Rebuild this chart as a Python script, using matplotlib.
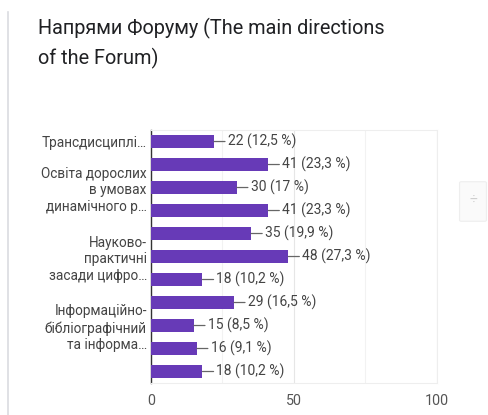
import matplotlib.pyplot as plt
from matplotlib.patches import FancyBboxPatch
from matplotlib.lines import Line2D

plt.rcParams['font.family'] = ['Roboto', 'DejaVu Sans']

# data
counts = [22, 41, 30, 41, 35, 48, 18, 29, 15, 16, 18]
percents = ["12,5", "23,3", "17", "23,3", "19,9", "27,3", "10,2", "16,5", "8,5", "9,1", "10,2"]
labels = ["Трансдисциплі…", "", "Освіта дорослих\nв умовах\nдинамічного р…", "", "",
          "Науково-\nпрактичні\nзасади цифро…", "", "", "Інформаційно-\nбібліографічний\nта інформа…", "", ""]
xticks = [0, 50, 100]
title_lines = ["Напрями Форуму (The main directions", "of the Forum)"]

bar_color = "#673ab7"
text_color = "#444444"

fig = plt.figure(figsize=(4.88, 4.15), dpi=100)
ax = fig.add_axes([0.3094, 0.0771, 0.586, 0.6096])

ypos = list(range(len(counts)))
ax.barh(ypos, counts, height=0.58, color=bar_color, zorder=3)

for y, c, p in zip(ypos, counts, percents):
    ax.annotate(f"{c} ({p} %)", xy=(c, y), xytext=(10, 0), textcoords="offset points",
                ha="left", va="center", fontsize=10, color=text_color,
                arrowprops=dict(arrowstyle="-", color="#666666", lw=0.9,
                                shrinkA=0, shrinkB=0), zorder=4)

ax.set_xlim(0, 100)
ax.set_ylim(len(counts) - 0.5, -0.5)
ax.set_yticks(ypos)
ax.set_yticklabels(labels, fontsize=9.8, color=text_color, linespacing=1.25,
                   multialignment="right")
ax.set_xticks(xticks)
ax.set_xticklabels([str(t) for t in xticks], fontsize=10.3, color="#555555")
ax.set_xticks([25, 75], minor=True)
ax.tick_params(axis="y", length=0, pad=3)
ax.tick_params(axis="x", length=0, pad=8)
ax.tick_params(axis="x", which="minor", length=0)
ax.grid(axis="x", which="major", color="#e6e6e6", lw=0.8, zorder=0)
ax.grid(axis="x", which="minor", color="#f2f2f2", lw=0.8, zorder=0)

for side in ["top", "right", "bottom"]:
    ax.spines[side].set_color("#eeeeee")
    ax.spines[side].set_linewidth(0.8)
ax.spines["left"].set_color("#333333")
ax.spines["left"].set_linewidth(1.0)

# title, two lines
for i, line in enumerate(title_lines):
    fig.text(38 / 488, 1 - (34 + 30 * i) / 415, line, fontsize=14.3, color="#202124",
             ha="left", va="baseline")

# card border on the left
fig.add_artist(Line2D([8 / 488, 8 / 488], [0, 1 - 12 / 415], color="#dadce0", lw=1.2))

# small scroll widget on the right
fig.add_artist(FancyBboxPatch((461 / 488, 1 - 220 / 415), 24 / 488, 37 / 415,
                              boxstyle="round,pad=0.003", fc="#fafafa", ec="#eeeeee",
                              lw=0.8, transform=fig.transFigure))
fig.text(473 / 488, 1 - 201 / 415, "÷", fontsize=10, color="#cccccc",
         ha="center", va="center")

fig.savefig("out.png", dpi=100, facecolor="white")
